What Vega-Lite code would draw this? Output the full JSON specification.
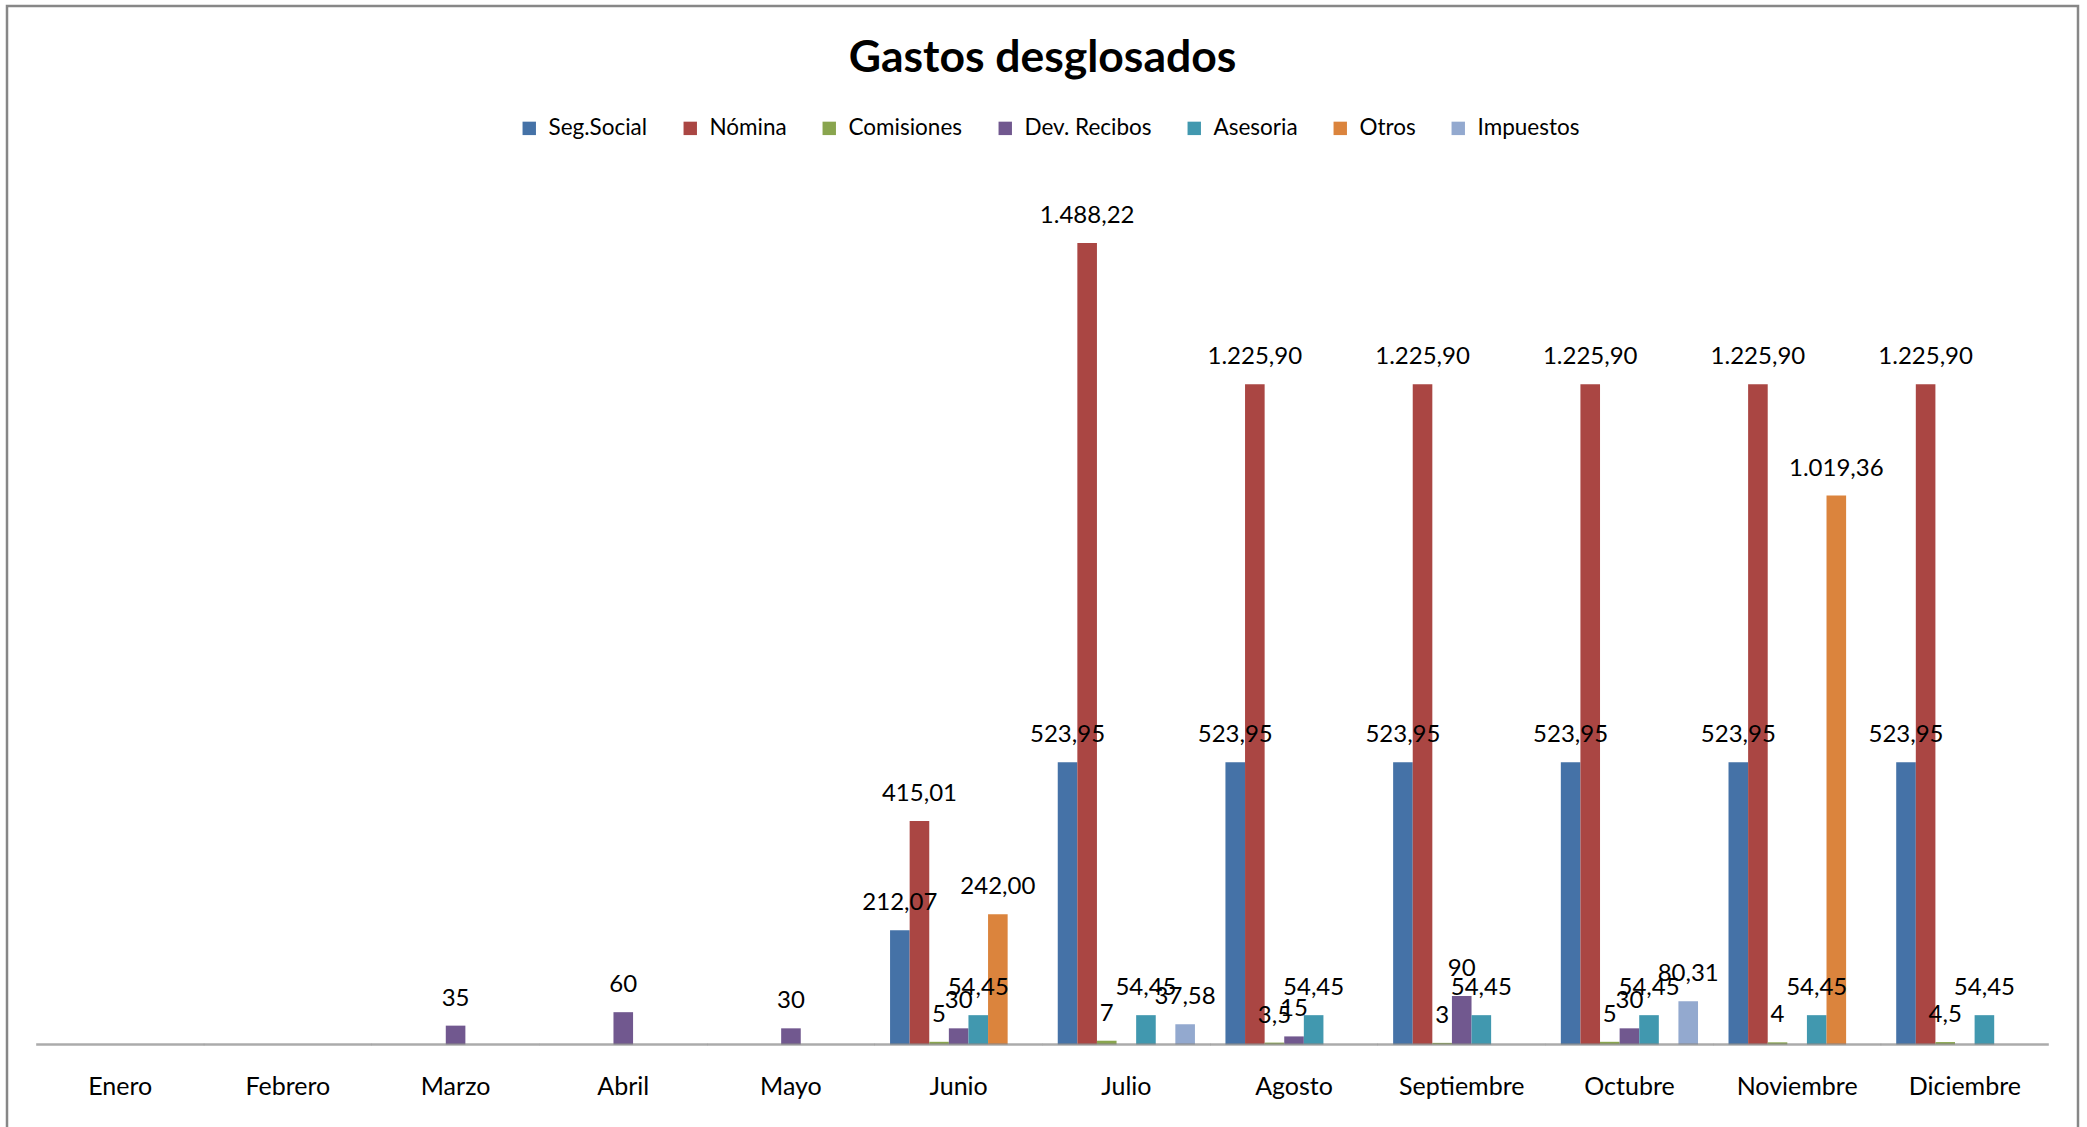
{
  "$schema": "https://vega.github.io/schema/vega-lite/v6.json",
  "autosize": "none",
  "width": 2071,
  "height": 1124,
  "padding": {"left": 7, "top": 6, "right": 9, "bottom": -3},
  "background": "white",
  "title": {
    "text": "Gastos desglosados",
    "font": "Lato",
    "fontSize": 44.5,
    "fontWeight": "bold",
    "color": "black",
    "anchor": "middle",
    "frame": "group",
    "offset": -75
  },
  "config": {
    "view": {"stroke": "#878787", "strokeWidth": 2.5},
    "font": "Lato",
    "legend": {
      "orient": "none",
      "legendX": 511,
      "legendY": 111,
      "direction": "horizontal",
      "columns": 7,
      "symbolType": "square",
      "symbolSize": 180,
      "symbolStrokeWidth": 0,
      "labelFont": "Lato",
      "labelFontSize": 22.5,
      "labelColor": "black",
      "labelOffset": 8,
      "columnPadding": 31,
      "padding": 0,
      "title": null
    }
  },
  "datasets": {
    "gastos": [
      {"mes": "Marzo", "serie": "Dev. Recibos", "valor": 35, "etiqueta": "35"},
      {"mes": "Abril", "serie": "Dev. Recibos", "valor": 60, "etiqueta": "60"},
      {"mes": "Mayo", "serie": "Dev. Recibos", "valor": 30, "etiqueta": "30"},
      {"mes": "Junio", "serie": "Seg.Social", "valor": 212.07, "etiqueta": "212,07"},
      {"mes": "Junio", "serie": "Nómina", "valor": 415.01, "etiqueta": "415,01"},
      {"mes": "Junio", "serie": "Comisiones", "valor": 5, "etiqueta": "5"},
      {"mes": "Junio", "serie": "Dev. Recibos", "valor": 30, "etiqueta": "30"},
      {"mes": "Junio", "serie": "Asesoria", "valor": 54.45, "etiqueta": "54,45"},
      {"mes": "Junio", "serie": "Otros", "valor": 242.0, "etiqueta": "242,00"},
      {"mes": "Julio", "serie": "Seg.Social", "valor": 523.95, "etiqueta": "523,95"},
      {"mes": "Julio", "serie": "Nómina", "valor": 1488.22, "etiqueta": "1.488,22"},
      {"mes": "Julio", "serie": "Comisiones", "valor": 7, "etiqueta": "7"},
      {"mes": "Julio", "serie": "Asesoria", "valor": 54.45, "etiqueta": "54,45"},
      {"mes": "Julio", "serie": "Impuestos", "valor": 37.58, "etiqueta": "37,58"},
      {"mes": "Agosto", "serie": "Seg.Social", "valor": 523.95, "etiqueta": "523,95"},
      {"mes": "Agosto", "serie": "Nómina", "valor": 1225.9, "etiqueta": "1.225,90"},
      {"mes": "Agosto", "serie": "Comisiones", "valor": 3.5, "etiqueta": "3,5"},
      {"mes": "Agosto", "serie": "Dev. Recibos", "valor": 15, "etiqueta": "15"},
      {"mes": "Agosto", "serie": "Asesoria", "valor": 54.45, "etiqueta": "54,45"},
      {"mes": "Septiembre", "serie": "Seg.Social", "valor": 523.95, "etiqueta": "523,95"},
      {"mes": "Septiembre", "serie": "Nómina", "valor": 1225.9, "etiqueta": "1.225,90"},
      {"mes": "Septiembre", "serie": "Comisiones", "valor": 3, "etiqueta": "3"},
      {"mes": "Septiembre", "serie": "Dev. Recibos", "valor": 90, "etiqueta": "90"},
      {"mes": "Septiembre", "serie": "Asesoria", "valor": 54.45, "etiqueta": "54,45"},
      {"mes": "Octubre", "serie": "Seg.Social", "valor": 523.95, "etiqueta": "523,95"},
      {"mes": "Octubre", "serie": "Nómina", "valor": 1225.9, "etiqueta": "1.225,90"},
      {"mes": "Octubre", "serie": "Comisiones", "valor": 5, "etiqueta": "5"},
      {"mes": "Octubre", "serie": "Dev. Recibos", "valor": 30, "etiqueta": "30"},
      {"mes": "Octubre", "serie": "Asesoria", "valor": 54.45, "etiqueta": "54,45"},
      {"mes": "Octubre", "serie": "Impuestos", "valor": 80.31, "etiqueta": "80,31"},
      {"mes": "Noviembre", "serie": "Seg.Social", "valor": 523.95, "etiqueta": "523,95"},
      {"mes": "Noviembre", "serie": "Nómina", "valor": 1225.9, "etiqueta": "1.225,90"},
      {"mes": "Noviembre", "serie": "Comisiones", "valor": 4, "etiqueta": "4"},
      {"mes": "Noviembre", "serie": "Asesoria", "valor": 54.45, "etiqueta": "54,45"},
      {"mes": "Noviembre", "serie": "Otros", "valor": 1019.36, "etiqueta": "1.019,36"},
      {"mes": "Diciembre", "serie": "Seg.Social", "valor": 523.95, "etiqueta": "523,95"},
      {"mes": "Diciembre", "serie": "Nómina", "valor": 1225.9, "etiqueta": "1.225,90"},
      {"mes": "Diciembre", "serie": "Comisiones", "valor": 4.5, "etiqueta": "4,5"},
      {"mes": "Diciembre", "serie": "Asesoria", "valor": 54.45, "etiqueta": "54,45"}
    ],
    "meses": [
      {"mes": "Enero"}, {"mes": "Febrero"}, {"mes": "Marzo"}, {"mes": "Abril"},
      {"mes": "Mayo"}, {"mes": "Junio"}, {"mes": "Julio"}, {"mes": "Agosto"},
      {"mes": "Septiembre"}, {"mes": "Octubre"}, {"mes": "Noviembre"}, {"mes": "Diciembre"}
    ]
  },
  "layer": [
    {
      "data": {"name": "gastos"},
      "mark": {"type": "bar"},
      "encoding": {
        "x": {
          "field": "mes", "type": "nominal", "sort": null,
          "scale": {
            "domain": ["Enero","Febrero","Marzo","Abril","Mayo","Junio","Julio","Agosto","Septiembre","Octubre","Noviembre","Diciembre"],
            "paddingInner": 0, "paddingOuter": 0.175
          },
          "axis": {
            "title": null, "orient": "bottom", "offset": -85.5,
            "domain": false, "ticks": false, "tickSize": 0,
            "labelAngle": 0, "labelFont": "Lato", "labelFontSize": 25,
            "labelColor": "black", "labelBaseline": "middle", "labelPadding": 42,
            "grid": false
          }
        },
        "xOffset": {
          "field": "serie", "type": "nominal",
          "scale": {
            "domain": ["Seg.Social","Nómina","Comisiones","Dev. Recibos","Asesoria","Otros","Impuestos"],
            "paddingInner": 0, "paddingOuter": 0.778
          }
        },
        "y": {
          "field": "valor", "type": "quantitative",
          "scale": {"domain": [-158.8, 1928.5], "nice": false, "zero": false},
          "axis": null
        },
        "color": {
          "field": "serie", "type": "nominal",
          "scale": {
            "domain": ["Seg.Social","Nómina","Comisiones","Dev. Recibos","Asesoria","Otros","Impuestos"],
            "range": ["#4572A7","#AA4643","#89A54E","#71588F","#4198AF","#DB843D","#93A9CF"]
          },
          "legend": {}
        }
      }
    },
    {
      "data": {"name": "gastos"},
      "mark": {"type": "text", "font": "Lato", "fontSize": 24, "color": "black", "baseline": "middle", "align": "center", "dy": -27},
      "encoding": {
        "x": {"field": "mes", "type": "nominal", "sort": null},
        "xOffset": {"field": "serie", "type": "nominal"},
        "y": {"field": "valor", "type": "quantitative"},
        "text": {"field": "etiqueta", "type": "nominal"}
      }
    },
    {
      "data": {"name": "meses"},
      "mark": {"type": "tick", "orient": "horizontal", "size": 168, "thickness": 2.5, "color": "#878787"},
      "encoding": {
        "x": {"field": "mes", "type": "nominal", "sort": null},
        "y": {"datum": 0, "type": "quantitative"}
      }
    }
  ]
}
